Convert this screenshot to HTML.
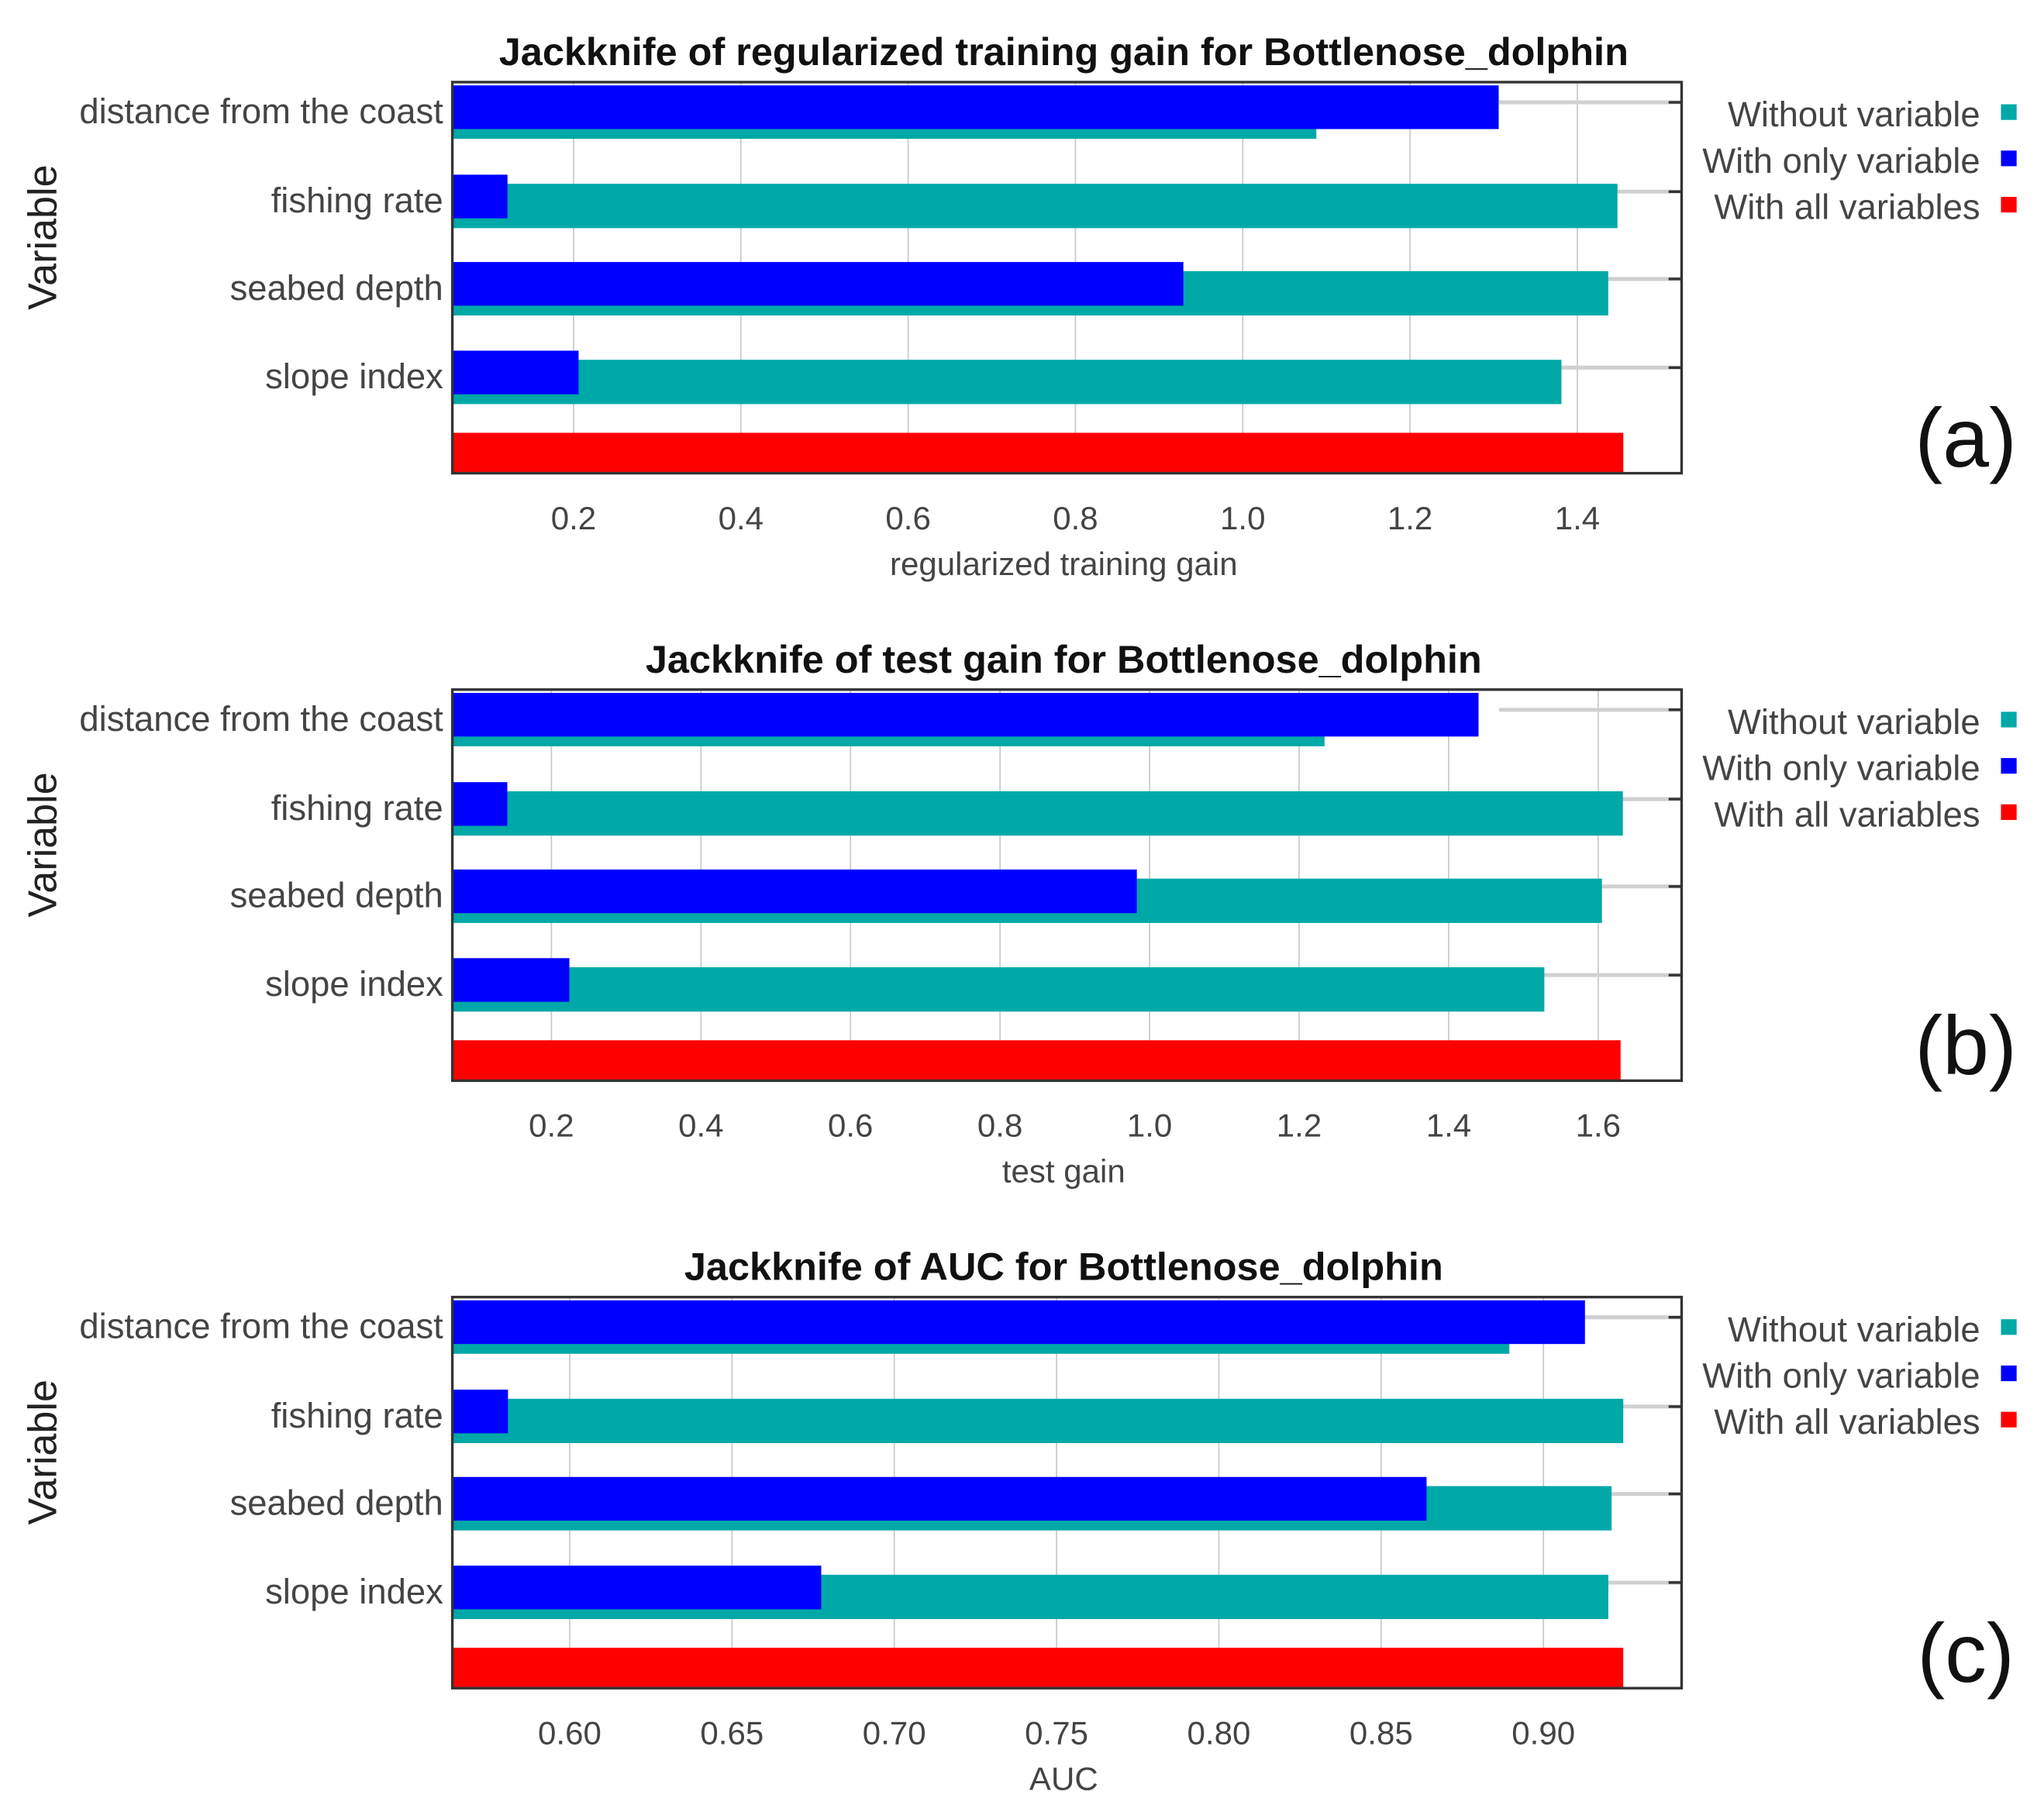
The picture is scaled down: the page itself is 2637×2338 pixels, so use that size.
<!DOCTYPE html>
<html><head><meta charset="utf-8"><style>
html,body{margin:0;padding:0;background:#fff;}
svg{display:block;}
text{font-family:"Liberation Sans",Arial,sans-serif;}
</style></head><body>
<svg id="fig" width="2637" height="2338" viewBox="0 0 1568 1390" preserveAspectRatio="none" xmlns="http://www.w3.org/2000/svg"></svg>
<script>
const categories = ["distance from the coast","fishing rate","seabed depth","slope index"];
const titlesA = "Jackknife of regularized training gain for Bottlenose_dolphin";
const titlesB = "Jackknife of test gain for Bottlenose_dolphin";
const titlesC = "Jackknife of AUC for Bottlenose_dolphin";
const withoutA = [1.088,1.448,1.437,1.381];
const onlyA = [1.306,0.121,0.929,0.206];
const allA = 1.455;
const ticksA = ["0.2","0.4","0.6","0.8","1.0","1.2","1.4"];
const withoutB = [1.234,1.633,1.605,1.528];
const onlyB = [1.44,0.141,0.983,0.224];
const allB = 1.63;
const ticksB = ["0.2","0.4","0.6","0.8","1.0","1.2","1.4","1.6"];
const withoutC = [0.8895,0.9246,0.921,0.92];
const onlyC = [0.9128,0.581,0.864,0.6775];
const allC = 0.9246;
const ticksC = ["0.60","0.65","0.70","0.75","0.80","0.85","0.90"];

const NS="http://www.w3.org/2000/svg";
const svg=document.getElementById('fig');
function mk(tag,attrs,parent){const e=document.createElementNS(NS,tag);for(const k in attrs)e.setAttribute(k,attrs[k]);(parent||svg).appendChild(e);return e;}

function panel(oy,title,xlabel,without,only,all,ticks,v0,p0,v1,p1,tag){
  const g=mk('g',{});
  
  
  const X=v=>p0+(v-v0)*(p1-p0)/(v1-v0);
  const L=347,R=1290,T=oy+63,B=oy+363;
  ticks.forEach(t=>{const x=X(parseFloat(t));
    const gl=mk('line',{x1:x,x2:x,y1:T,y2:B,stroke:'#c8c8c8','stroke-width':1},g);
    
    
    const tl=mk('text',{x:x,y:oy+406,'font-size':25,fill:'#444','text-anchor':'middle'},g);
    tl.textContent=t;
    
    
  });
  const centers=[T+15.5,T+84,T+151,T+219];
  categories.forEach((c,i)=>{const cy=centers[i];
    const hl=mk('line',{x1:R-140,x2:R,y1:cy,y2:cy,stroke:'#d0d0d0','stroke-width':3},g);
    
    
    const tw=mk('rect',{x:L,y:cy-6,width:Math.max(0,X(without[i])-L),height:34,fill:'#00a8a8'},g);
    
    
    const bo=mk('rect',{x:L,y:cy-13,width:Math.max(0,X(only[i])-L),height:33.5,fill:'#0000ff'},g);
    
    
    const tk=mk('line',{x1:R-10,x2:R,y1:cy,y2:cy,stroke:'#333','stroke-width':2},g);
    
    
    const lb=mk('text',{x:340,y:cy+16,'font-size':27,fill:'#444','text-anchor':'end'},g);
    lb.textContent=c;
    
    
  });
  const ra=mk('rect',{x:L,y:T+269,width:X(all)-L,height:31,fill:'#ff0000'},g);
  
  
  const fr=mk('rect',{x:L,y:T,width:R-L,height:B-T,fill:'none',stroke:'#333','stroke-width':2},g);
  
  
  const tt=mk('text',{x:816,y:oy+50,'font-size':30,'font-weight':'bold',fill:'#111','text-anchor':'middle'},g);
  tt.textContent=title;
  
  
  const xt=mk('text',{x:816,y:oy+441,'font-size':25,fill:'#444','text-anchor':'middle'},g);
  xt.textContent=xlabel;
  
  
  const yt=mk('text',{x:0,y:0,'font-size':31,fill:'#222','text-anchor':'middle',transform:'translate(43,'+(oy+182)+') rotate(-90)'},g);
  yt.textContent='Variable';
  
  
  const leg=[["Without variable","#00a8a8"],["With only variable","#0000ff"],["With all variables","#ff0000"]];
  leg.forEach((l,i)=>{const y=oy+88+i*35.5;
    const lt=mk('text',{x:1519,y:y+9,'font-size':27,fill:'#444','text-anchor':'end'},g);
    lt.textContent=l[0];
    
    
    const sw=mk('rect',{x:1535,y:y-8,width:12,height:12,fill:l[1]},g);
    
    
  });
  const pl=mk('text',{x:1508,y:oy+358,'font-size':64,fill:'#111','text-anchor':'middle'},g);
  pl.textContent='('+tag+')';
  
  
}
panel(0,titlesA,"regularized training gain",withoutA,onlyA,allA,ticksA,0.2,440,1.4,1210,'a');
panel(466,titlesB,"test gain",withoutB,onlyB,allB,ticksB,0.2,423,1.6,1226,'b');
panel(932,titlesC,"AUC",withoutC,onlyC,allC,ticksC,0.60,437,0.90,1184,'c');
</script>
</body></html>
